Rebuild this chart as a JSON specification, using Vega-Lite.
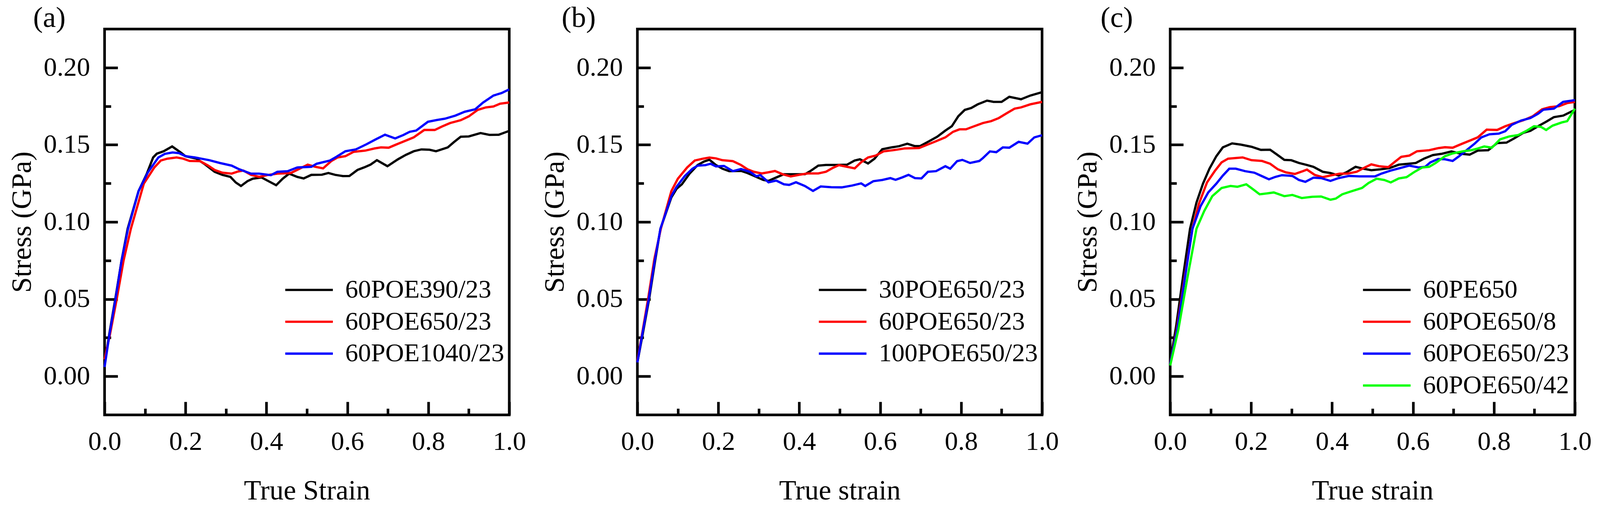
{
  "$schema": "https://vega.github.io/schema/vega-lite/v6.json",
  "background": "#ffffff",
  "padding": {"left": 16.7, "top": 5.3, "right": 0, "bottom": 0},
  "config": {
    "font": "Liberation Serif",
    "view": {"stroke": "#000000", "strokeWidth": 6.7},
    "axis": {
      "domain": false, "grid": false,
      "tickColor": "#000000", "tickWidth": 6.7,
      "labelFont": "Liberation Serif", "labelFontSize": 68, "labelColor": "#000000",
      "labelFlush": false, "labelOverlap": false, "labelBound": false,
      "titleFont": "Liberation Serif", "titleFontSize": 72, "titleFontWeight": "normal", "titleColor": "#000000"
    },
    "legend": {
      "orient": "none", "title": null, "padding": 0,
      "symbolType": "M-2,0L2,0", "symbolSize": 3712, "symbolStrokeWidth": 5.8,
      "labelFont": "Liberation Serif", "labelFontSize": 66, "labelColor": "#000000", "labelLimit": 1000,
      "labelOffset": 59, "rowPadding": 14.6, "legendY": 634.5
    },
    "title": {
      "font": "Liberation Serif", "fontSize": 75, "fontWeight": "normal", "color": "#000000",
      "anchor": "start", "frame": "group", "baseline": "alphabetic", "offset": 0, "dy": 14.4
    }
  },
  "datasets": {
    "a": [
      {"s":"60POE390/23","x":0,"y":0.008},{"s":"60POE390/23","x":0.012,"y":0.028},{"s":"60POE390/23","x":0.027,"y":0.051},{"s":"60POE390/23","x":0.042,"y":0.075},{"s":"60POE390/23","x":0.057,"y":0.0956},{"s":"60POE390/23","x":0.084,"y":0.12},{"s":"60POE390/23","x":0.104,"y":0.131},{"s":"60POE390/23","x":0.12,"y":0.1418},{"s":"60POE390/23","x":0.129,"y":0.1442},{"s":"60POE390/23","x":0.146,"y":0.1458},{"s":"60POE390/23","x":0.167,"y":0.1489},{"s":"60POE390/23","x":0.188,"y":0.145},{"s":"60POE390/23","x":0.2,"y":0.1426},{"s":"60POE390/23","x":0.227,"y":0.141},{"s":"60POE390/23","x":0.246,"y":0.1377},{"s":"60POE390/23","x":0.272,"y":0.1325},{"s":"60POE390/23","x":0.291,"y":0.1305},{"s":"60POE390/23","x":0.311,"y":0.1292},{"s":"60POE390/23","x":0.324,"y":0.1256},{"s":"60POE390/23","x":0.337,"y":0.1233},{"s":"60POE390/23","x":0.353,"y":0.1264},{"s":"60POE390/23","x":0.366,"y":0.128},{"s":"60POE390/23","x":0.388,"y":0.1288},{"s":"60POE390/23","x":0.408,"y":0.126},{"s":"60POE390/23","x":0.424,"y":0.1238},{"s":"60POE390/23","x":0.44,"y":0.128},{"s":"60POE390/23","x":0.456,"y":0.1313},{"s":"60POE390/23","x":0.476,"y":0.1292},{"s":"60POE390/23","x":0.492,"y":0.1282},{"s":"60POE390/23","x":0.511,"y":0.1305},{"s":"60POE390/23","x":0.537,"y":0.1306},{"s":"60POE390/23","x":0.553,"y":0.1317},{"s":"60POE390/23","x":0.57,"y":0.1305},{"s":"60POE390/23","x":0.589,"y":0.1297},{"s":"60POE390/23","x":0.605,"y":0.1298},{"s":"60POE390/23","x":0.625,"y":0.1337},{"s":"60POE390/23","x":0.641,"y":0.1353},{"s":"60POE390/23","x":0.657,"y":0.1371},{"s":"60POE390/23","x":0.673,"y":0.14},{"s":"60POE390/23","x":0.699,"y":0.1361},{"s":"60POE390/23","x":0.725,"y":0.1406},{"s":"60POE390/23","x":0.744,"y":0.1434},{"s":"60POE390/23","x":0.764,"y":0.1458},{"s":"60POE390/23","x":0.783,"y":0.147},{"s":"60POE390/23","x":0.803,"y":0.1468},{"s":"60POE390/23","x":0.819,"y":0.1458},{"s":"60POE390/23","x":0.848,"y":0.1483},{"s":"60POE390/23","x":0.864,"y":0.1519},{"s":"60POE390/23","x":0.88,"y":0.1552},{"s":"60POE390/23","x":0.9,"y":0.1554},{"s":"60POE390/23","x":0.929,"y":0.1576},{"s":"60POE390/23","x":0.951,"y":0.1564},{"s":"60POE390/23","x":0.974,"y":0.1565},{"s":"60POE390/23","x":1,"y":0.159},
      {"s":"60POE650/23","x":0,"y":0.011},{"s":"60POE650/23","x":0.014,"y":0.028},{"s":"60POE650/23","x":0.03,"y":0.05},{"s":"60POE650/23","x":0.047,"y":0.075},{"s":"60POE650/23","x":0.065,"y":0.0956},{"s":"60POE650/23","x":0.097,"y":0.1248},{"s":"60POE650/23","x":0.123,"y":0.1353},{"s":"60POE650/23","x":0.139,"y":0.1398},{"s":"60POE650/23","x":0.155,"y":0.141},{"s":"60POE650/23","x":0.178,"y":0.1418},{"s":"60POE650/23","x":0.194,"y":0.141},{"s":"60POE650/23","x":0.21,"y":0.1395},{"s":"60POE650/23","x":0.236,"y":0.1394},{"s":"60POE650/23","x":0.256,"y":0.1365},{"s":"60POE650/23","x":0.272,"y":0.1337},{"s":"60POE650/23","x":0.291,"y":0.1319},{"s":"60POE650/23","x":0.314,"y":0.1313},{"s":"60POE650/23","x":0.33,"y":0.1327},{"s":"60POE650/23","x":0.343,"y":0.1333},{"s":"60POE650/23","x":0.362,"y":0.1305},{"s":"60POE650/23","x":0.382,"y":0.1292},{"s":"60POE650/23","x":0.405,"y":0.1305},{"s":"60POE650/23","x":0.427,"y":0.1313},{"s":"60POE650/23","x":0.46,"y":0.1317},{"s":"60POE650/23","x":0.482,"y":0.1345},{"s":"60POE650/23","x":0.502,"y":0.1371},{"s":"60POE650/23","x":0.521,"y":0.1357},{"s":"60POE650/23","x":0.54,"y":0.1347},{"s":"60POE650/23","x":0.56,"y":0.1394},{"s":"60POE650/23","x":0.576,"y":0.1418},{"s":"60POE650/23","x":0.595,"y":0.1426},{"s":"60POE650/23","x":0.615,"y":0.1454},{"s":"60POE650/23","x":0.644,"y":0.1462},{"s":"60POE650/23","x":0.667,"y":0.1476},{"s":"60POE650/23","x":0.683,"y":0.1483},{"s":"60POE650/23","x":0.702,"y":0.1481},{"s":"60POE650/23","x":0.722,"y":0.1503},{"s":"60POE650/23","x":0.748,"y":0.1531},{"s":"60POE650/23","x":0.764,"y":0.1548},{"s":"60POE650/23","x":0.79,"y":0.1596},{"s":"60POE650/23","x":0.816,"y":0.1596},{"s":"60POE650/23","x":0.835,"y":0.162},{"s":"60POE650/23","x":0.854,"y":0.1641},{"s":"60POE650/23","x":0.88,"y":0.1659},{"s":"60POE650/23","x":0.9,"y":0.1684},{"s":"60POE650/23","x":0.922,"y":0.1726},{"s":"60POE650/23","x":0.942,"y":0.1742},{"s":"60POE650/23","x":0.961,"y":0.1748},{"s":"60POE650/23","x":0.977,"y":0.1766},{"s":"60POE650/23","x":1,"y":0.1774},
      {"s":"60POE1040/23","x":0,"y":0.006},{"s":"60POE1040/23","x":0.012,"y":0.027},{"s":"60POE1040/23","x":0.027,"y":0.05},{"s":"60POE1040/23","x":0.042,"y":0.075},{"s":"60POE1040/23","x":0.058,"y":0.0956},{"s":"60POE1040/23","x":0.084,"y":0.12},{"s":"60POE1040/23","x":0.107,"y":0.1321},{"s":"60POE1040/23","x":0.133,"y":0.1418},{"s":"60POE1040/23","x":0.149,"y":0.1441},{"s":"60POE1040/23","x":0.168,"y":0.145},{"s":"60POE1040/23","x":0.184,"y":0.1446},{"s":"60POE1040/23","x":0.2,"y":0.1426},{"s":"60POE1040/23","x":0.223,"y":0.1418},{"s":"60POE1040/23","x":0.259,"y":0.14},{"s":"60POE1040/23","x":0.285,"y":0.1382},{"s":"60POE1040/23","x":0.314,"y":0.1365},{"s":"60POE1040/23","x":0.333,"y":0.1341},{"s":"60POE1040/23","x":0.362,"y":0.1313},{"s":"60POE1040/23","x":0.382,"y":0.1313},{"s":"60POE1040/23","x":0.411,"y":0.1303},{"s":"60POE1040/23","x":0.427,"y":0.1325},{"s":"60POE1040/23","x":0.453,"y":0.1329},{"s":"60POE1040/23","x":0.476,"y":0.1353},{"s":"60POE1040/23","x":0.511,"y":0.1357},{"s":"60POE1040/23","x":0.524,"y":0.1377},{"s":"60POE1040/23","x":0.557,"y":0.1398},{"s":"60POE1040/23","x":0.573,"y":0.1422},{"s":"60POE1040/23","x":0.595,"y":0.1458},{"s":"60POE1040/23","x":0.621,"y":0.147},{"s":"60POE1040/23","x":0.647,"y":0.1503},{"s":"60POE1040/23","x":0.67,"y":0.1535},{"s":"60POE1040/23","x":0.693,"y":0.1565},{"s":"60POE1040/23","x":0.718,"y":0.1541},{"s":"60POE1040/23","x":0.738,"y":0.1563},{"s":"60POE1040/23","x":0.754,"y":0.1584},{"s":"60POE1040/23","x":0.77,"y":0.1592},{"s":"60POE1040/23","x":0.799,"y":0.1649},{"s":"60POE1040/23","x":0.822,"y":0.1661},{"s":"60POE1040/23","x":0.841,"y":0.1669},{"s":"60POE1040/23","x":0.867,"y":0.1689},{"s":"60POE1040/23","x":0.89,"y":0.1714},{"s":"60POE1040/23","x":0.916,"y":0.173},{"s":"60POE1040/23","x":0.935,"y":0.1773},{"s":"60POE1040/23","x":0.961,"y":0.1819},{"s":"60POE1040/23","x":0.981,"y":0.1835},{"s":"60POE1040/23","x":1,"y":0.1859}
    ],
    "b": [
      {"s":"30POE650/23","x":0,"y":0.009},{"s":"30POE650/23","x":0.013,"y":0.027},{"s":"30POE650/23","x":0.029,"y":0.05},{"s":"30POE650/23","x":0.044,"y":0.075},{"s":"30POE650/23","x":0.057,"y":0.0956},{"s":"30POE650/23","x":0.084,"y":0.1159},{"s":"30POE650/23","x":0.097,"y":0.1215},{"s":"30POE650/23","x":0.11,"y":0.1244},{"s":"30POE650/23","x":0.129,"y":0.1313},{"s":"30POE650/23","x":0.149,"y":0.1369},{"s":"30POE650/23","x":0.165,"y":0.1392},{"s":"30POE650/23","x":0.178,"y":0.1403},{"s":"30POE650/23","x":0.194,"y":0.1369},{"s":"30POE650/23","x":0.21,"y":0.1345},{"s":"30POE650/23","x":0.227,"y":0.1329},{"s":"30POE650/23","x":0.256,"y":0.1331},{"s":"30POE650/23","x":0.272,"y":0.1317},{"s":"30POE650/23","x":0.291,"y":0.1295},{"s":"30POE650/23","x":0.311,"y":0.1272},{"s":"30POE650/23","x":0.324,"y":0.1266},{"s":"30POE650/23","x":0.343,"y":0.1288},{"s":"30POE650/23","x":0.362,"y":0.1309},{"s":"30POE650/23","x":0.388,"y":0.1309},{"s":"30POE650/23","x":0.414,"y":0.1309},{"s":"30POE650/23","x":0.427,"y":0.1329},{"s":"30POE650/23","x":0.447,"y":0.1365},{"s":"30POE650/23","x":0.466,"y":0.1369},{"s":"30POE650/23","x":0.492,"y":0.1369},{"s":"30POE650/23","x":0.518,"y":0.1371},{"s":"30POE650/23","x":0.537,"y":0.1398},{"s":"30POE650/23","x":0.55,"y":0.1406},{"s":"30POE650/23","x":0.57,"y":0.1379},{"s":"30POE650/23","x":0.586,"y":0.141},{"s":"30POE650/23","x":0.605,"y":0.1471},{"s":"30POE650/23","x":0.628,"y":0.1483},{"s":"30POE650/23","x":0.647,"y":0.1491},{"s":"30POE650/23","x":0.667,"y":0.1507},{"s":"30POE650/23","x":0.686,"y":0.1491},{"s":"30POE650/23","x":0.699,"y":0.1492},{"s":"30POE650/23","x":0.718,"y":0.1519},{"s":"30POE650/23","x":0.741,"y":0.1552},{"s":"30POE650/23","x":0.761,"y":0.1592},{"s":"30POE650/23","x":0.777,"y":0.162},{"s":"30POE650/23","x":0.793,"y":0.1685},{"s":"30POE650/23","x":0.809,"y":0.1726},{"s":"30POE650/23","x":0.825,"y":0.1738},{"s":"30POE650/23","x":0.841,"y":0.1762},{"s":"30POE650/23","x":0.864,"y":0.1786},{"s":"30POE650/23","x":0.88,"y":0.1778},{"s":"30POE650/23","x":0.9,"y":0.1778},{"s":"30POE650/23","x":0.919,"y":0.1811},{"s":"30POE650/23","x":0.948,"y":0.1795},{"s":"30POE650/23","x":0.971,"y":0.1819},{"s":"30POE650/23","x":1,"y":0.1841},
      {"s":"60POE650/23","x":0,"y":0.01},{"s":"60POE650/23","x":0.012,"y":0.028},{"s":"60POE650/23","x":0.027,"y":0.051},{"s":"60POE650/23","x":0.042,"y":0.076},{"s":"60POE650/23","x":0.058,"y":0.0956},{"s":"60POE650/23","x":0.084,"y":0.12},{"s":"60POE650/23","x":0.1,"y":0.128},{"s":"60POE650/23","x":0.123,"y":0.1353},{"s":"60POE650/23","x":0.142,"y":0.1398},{"s":"60POE650/23","x":0.162,"y":0.141},{"s":"60POE650/23","x":0.178,"y":0.1417},{"s":"60POE650/23","x":0.194,"y":0.1412},{"s":"60POE650/23","x":0.21,"y":0.14},{"s":"60POE650/23","x":0.236,"y":0.1394},{"s":"60POE650/23","x":0.256,"y":0.1369},{"s":"60POE650/23","x":0.272,"y":0.1341},{"s":"60POE650/23","x":0.288,"y":0.1325},{"s":"60POE650/23","x":0.307,"y":0.1314},{"s":"60POE650/23","x":0.324,"y":0.1322},{"s":"60POE650/23","x":0.34,"y":0.133},{"s":"60POE650/23","x":0.359,"y":0.1309},{"s":"60POE650/23","x":0.379,"y":0.1295},{"s":"60POE650/23","x":0.401,"y":0.1306},{"s":"60POE650/23","x":0.421,"y":0.1314},{"s":"60POE650/23","x":0.447,"y":0.1314},{"s":"60POE650/23","x":0.466,"y":0.1325},{"s":"60POE650/23","x":0.482,"y":0.1349},{"s":"60POE650/23","x":0.498,"y":0.1368},{"s":"60POE650/23","x":0.518,"y":0.1357},{"s":"60POE650/23","x":0.537,"y":0.1347},{"s":"60POE650/23","x":0.553,"y":0.1387},{"s":"60POE650/23","x":0.57,"y":0.1418},{"s":"60POE650/23","x":0.589,"y":0.143},{"s":"60POE650/23","x":0.608,"y":0.1457},{"s":"60POE650/23","x":0.638,"y":0.1467},{"s":"60POE650/23","x":0.66,"y":0.1476},{"s":"60POE650/23","x":0.696,"y":0.1479},{"s":"60POE650/23","x":0.715,"y":0.1499},{"s":"60POE650/23","x":0.738,"y":0.1523},{"s":"60POE650/23","x":0.761,"y":0.1548},{"s":"60POE650/23","x":0.78,"y":0.1584},{"s":"60POE650/23","x":0.796,"y":0.16},{"s":"60POE650/23","x":0.812,"y":0.16},{"s":"60POE650/23","x":0.828,"y":0.1616},{"s":"60POE650/23","x":0.854,"y":0.1641},{"s":"60POE650/23","x":0.874,"y":0.1653},{"s":"60POE650/23","x":0.893,"y":0.1673},{"s":"60POE650/23","x":0.913,"y":0.1705},{"s":"60POE650/23","x":0.932,"y":0.1734},{"s":"60POE650/23","x":0.948,"y":0.1742},{"s":"60POE650/23","x":0.971,"y":0.1762},{"s":"60POE650/23","x":1,"y":0.1778},
      {"s":"100POE650/23","x":0,"y":0.009},{"s":"100POE650/23","x":0.012,"y":0.027},{"s":"100POE650/23","x":0.028,"y":0.05},{"s":"100POE650/23","x":0.043,"y":0.075},{"s":"100POE650/23","x":0.057,"y":0.0956},{"s":"100POE650/23","x":0.084,"y":0.1167},{"s":"100POE650/23","x":0.097,"y":0.1228},{"s":"100POE650/23","x":0.117,"y":0.1297},{"s":"100POE650/23","x":0.136,"y":0.1345},{"s":"100POE650/23","x":0.149,"y":0.1365},{"s":"100POE650/23","x":0.168,"y":0.1368},{"s":"100POE650/23","x":0.181,"y":0.1377},{"s":"100POE650/23","x":0.194,"y":0.136},{"s":"100POE650/23","x":0.214,"y":0.1363},{"s":"100POE650/23","x":0.236,"y":0.1329},{"s":"100POE650/23","x":0.256,"y":0.1343},{"s":"100POE650/23","x":0.278,"y":0.1325},{"s":"100POE650/23","x":0.294,"y":0.1296},{"s":"100POE650/23","x":0.304,"y":0.1303},{"s":"100POE650/23","x":0.324,"y":0.1257},{"s":"100POE650/23","x":0.343,"y":0.1268},{"s":"100POE650/23","x":0.362,"y":0.1244},{"s":"100POE650/23","x":0.375,"y":0.124},{"s":"100POE650/23","x":0.392,"y":0.1257},{"s":"100POE650/23","x":0.414,"y":0.1233},{"s":"100POE650/23","x":0.434,"y":0.1201},{"s":"100POE650/23","x":0.453,"y":0.123},{"s":"100POE650/23","x":0.479,"y":0.1225},{"s":"100POE650/23","x":0.505,"y":0.1224},{"s":"100POE650/23","x":0.531,"y":0.1236},{"s":"100POE650/23","x":0.553,"y":0.125},{"s":"100POE650/23","x":0.563,"y":0.1233},{"s":"100POE650/23","x":0.583,"y":0.1264},{"s":"100POE650/23","x":0.605,"y":0.1272},{"s":"100POE650/23","x":0.625,"y":0.1284},{"s":"100POE650/23","x":0.638,"y":0.1273},{"s":"100POE650/23","x":0.654,"y":0.1288},{"s":"100POE650/23","x":0.67,"y":0.1305},{"s":"100POE650/23","x":0.686,"y":0.1284},{"s":"100POE650/23","x":0.702,"y":0.1282},{"s":"100POE650/23","x":0.718,"y":0.1325},{"s":"100POE650/23","x":0.738,"y":0.1329},{"s":"100POE650/23","x":0.761,"y":0.1361},{"s":"100POE650/23","x":0.773,"y":0.1345},{"s":"100POE650/23","x":0.79,"y":0.1394},{"s":"100POE650/23","x":0.803,"y":0.1402},{"s":"100POE650/23","x":0.822,"y":0.1382},{"s":"100POE650/23","x":0.845,"y":0.1395},{"s":"100POE650/23","x":0.854,"y":0.1414},{"s":"100POE650/23","x":0.871,"y":0.1457},{"s":"100POE650/23","x":0.887,"y":0.1452},{"s":"100POE650/23","x":0.903,"y":0.1483},{"s":"100POE650/23","x":0.919,"y":0.1481},{"s":"100POE650/23","x":0.942,"y":0.1519},{"s":"100POE650/23","x":0.964,"y":0.1507},{"s":"100POE650/23","x":0.981,"y":0.1548},{"s":"100POE650/23","x":1,"y":0.1562}
    ],
    "c": [
      {"s":"60PE650","x":0,"y":0.009},{"s":"60PE650","x":0.015,"y":0.033},{"s":"60PE650","x":0.032,"y":0.065},{"s":"60PE650","x":0.049,"y":0.0956},{"s":"60PE650","x":0.065,"y":0.1126},{"s":"60PE650","x":0.081,"y":0.1248},{"s":"60PE650","x":0.097,"y":0.1345},{"s":"60PE650","x":0.114,"y":0.1426},{"s":"60PE650","x":0.13,"y":0.1483},{"s":"60PE650","x":0.153,"y":0.1509},{"s":"60PE650","x":0.175,"y":0.1501},{"s":"60PE650","x":0.201,"y":0.1487},{"s":"60PE650","x":0.224,"y":0.1467},{"s":"60PE650","x":0.247,"y":0.1468},{"s":"60PE650","x":0.263,"y":0.1438},{"s":"60PE650","x":0.282,"y":0.1402},{"s":"60PE650","x":0.299,"y":0.14},{"s":"60PE650","x":0.318,"y":0.1382},{"s":"60PE650","x":0.338,"y":0.1369},{"s":"60PE650","x":0.354,"y":0.1357},{"s":"60PE650","x":0.377,"y":0.1325},{"s":"60PE650","x":0.396,"y":0.1317},{"s":"60PE650","x":0.416,"y":0.1301},{"s":"60PE650","x":0.435,"y":0.1321},{"s":"60PE650","x":0.458,"y":0.1357},{"s":"60PE650","x":0.477,"y":0.1345},{"s":"60PE650","x":0.497,"y":0.1335},{"s":"60PE650","x":0.519,"y":0.1341},{"s":"60PE650","x":0.542,"y":0.1349},{"s":"60PE650","x":0.565,"y":0.1371},{"s":"60PE650","x":0.588,"y":0.1377},{"s":"60PE650","x":0.607,"y":0.1382},{"s":"60PE650","x":0.627,"y":0.141},{"s":"60PE650","x":0.649,"y":0.1433},{"s":"60PE650","x":0.672,"y":0.1442},{"s":"60PE650","x":0.695,"y":0.1457},{"s":"60PE650","x":0.718,"y":0.1442},{"s":"60PE650","x":0.74,"y":0.1436},{"s":"60PE650","x":0.76,"y":0.1462},{"s":"60PE650","x":0.786,"y":0.1465},{"s":"60PE650","x":0.808,"y":0.1511},{"s":"60PE650","x":0.831,"y":0.1514},{"s":"60PE650","x":0.851,"y":0.1543},{"s":"60PE650","x":0.873,"y":0.1578},{"s":"60PE650","x":0.89,"y":0.159},{"s":"60PE650","x":0.909,"y":0.162},{"s":"60PE650","x":0.929,"y":0.1649},{"s":"60PE650","x":0.948,"y":0.1679},{"s":"60PE650","x":0.971,"y":0.1689},{"s":"60PE650","x":1,"y":0.1726},
      {"s":"60POE650/8","x":0,"y":0.008},{"s":"60POE650/8","x":0.016,"y":0.03},{"s":"60POE650/8","x":0.035,"y":0.063},{"s":"60POE650/8","x":0.055,"y":0.0956},{"s":"60POE650/8","x":0.071,"y":0.1118},{"s":"60POE650/8","x":0.091,"y":0.1256},{"s":"60POE650/8","x":0.11,"y":0.1329},{"s":"60POE650/8","x":0.127,"y":0.1386},{"s":"60POE650/8","x":0.143,"y":0.141},{"s":"60POE650/8","x":0.162,"y":0.1414},{"s":"60POE650/8","x":0.179,"y":0.1418},{"s":"60POE650/8","x":0.201,"y":0.14},{"s":"60POE650/8","x":0.227,"y":0.1395},{"s":"60POE650/8","x":0.247,"y":0.1377},{"s":"60POE650/8","x":0.266,"y":0.1341},{"s":"60POE650/8","x":0.286,"y":0.1321},{"s":"60POE650/8","x":0.308,"y":0.1311},{"s":"60POE650/8","x":0.328,"y":0.1329},{"s":"60POE650/8","x":0.338,"y":0.1339},{"s":"60POE650/8","x":0.357,"y":0.1305},{"s":"60POE650/8","x":0.377,"y":0.129},{"s":"60POE650/8","x":0.396,"y":0.1301},{"s":"60POE650/8","x":0.419,"y":0.1313},{"s":"60POE650/8","x":0.438,"y":0.1313},{"s":"60POE650/8","x":0.461,"y":0.1325},{"s":"60POE650/8","x":0.481,"y":0.1353},{"s":"60POE650/8","x":0.497,"y":0.1373},{"s":"60POE650/8","x":0.516,"y":0.1361},{"s":"60POE650/8","x":0.539,"y":0.1355},{"s":"60POE650/8","x":0.555,"y":0.1389},{"s":"60POE650/8","x":0.571,"y":0.1422},{"s":"60POE650/8","x":0.591,"y":0.143},{"s":"60POE650/8","x":0.61,"y":0.1458},{"s":"60POE650/8","x":0.64,"y":0.1465},{"s":"60POE650/8","x":0.662,"y":0.1478},{"s":"60POE650/8","x":0.679,"y":0.1484},{"s":"60POE650/8","x":0.698,"y":0.1481},{"s":"60POE650/8","x":0.718,"y":0.1503},{"s":"60POE650/8","x":0.744,"y":0.1531},{"s":"60POE650/8","x":0.76,"y":0.1548},{"s":"60POE650/8","x":0.782,"y":0.1598},{"s":"60POE650/8","x":0.808,"y":0.1596},{"s":"60POE650/8","x":0.828,"y":0.162},{"s":"60POE650/8","x":0.851,"y":0.1641},{"s":"60POE650/8","x":0.873,"y":0.1659},{"s":"60POE650/8","x":0.896,"y":0.1685},{"s":"60POE650/8","x":0.919,"y":0.173},{"s":"60POE650/8","x":0.938,"y":0.1744},{"s":"60POE650/8","x":0.961,"y":0.175},{"s":"60POE650/8","x":0.981,"y":0.177},{"s":"60POE650/8","x":1,"y":0.1778},
      {"s":"60POE650/23","x":0,"y":0.008},{"s":"60POE650/23","x":0.017,"y":0.03},{"s":"60POE650/23","x":0.036,"y":0.063},{"s":"60POE650/23","x":0.055,"y":0.0956},{"s":"60POE650/23","x":0.075,"y":0.1102},{"s":"60POE650/23","x":0.094,"y":0.1191},{"s":"60POE650/23","x":0.114,"y":0.1248},{"s":"60POE650/23","x":0.13,"y":0.13},{"s":"60POE650/23","x":0.146,"y":0.1345},{"s":"60POE650/23","x":0.162,"y":0.1345},{"s":"60POE650/23","x":0.185,"y":0.1329},{"s":"60POE650/23","x":0.208,"y":0.1319},{"s":"60POE650/23","x":0.224,"y":0.13},{"s":"60POE650/23","x":0.244,"y":0.1276},{"s":"60POE650/23","x":0.26,"y":0.1292},{"s":"60POE650/23","x":0.276,"y":0.1303},{"s":"60POE650/23","x":0.302,"y":0.1298},{"s":"60POE650/23","x":0.318,"y":0.1272},{"s":"60POE650/23","x":0.334,"y":0.126},{"s":"60POE650/23","x":0.354,"y":0.1287},{"s":"60POE650/23","x":0.373,"y":0.1284},{"s":"60POE650/23","x":0.396,"y":0.1266},{"s":"60POE650/23","x":0.416,"y":0.1284},{"s":"60POE650/23","x":0.442,"y":0.1298},{"s":"60POE650/23","x":0.468,"y":0.1295},{"s":"60POE650/23","x":0.506,"y":0.1295},{"s":"60POE650/23","x":0.523,"y":0.1314},{"s":"60POE650/23","x":0.545,"y":0.1333},{"s":"60POE650/23","x":0.568,"y":0.1349},{"s":"60POE650/23","x":0.591,"y":0.1365},{"s":"60POE650/23","x":0.614,"y":0.1353},{"s":"60POE650/23","x":0.63,"y":0.1357},{"s":"60POE650/23","x":0.643,"y":0.1386},{"s":"60POE650/23","x":0.662,"y":0.1408},{"s":"60POE650/23","x":0.679,"y":0.1406},{"s":"60POE650/23","x":0.698,"y":0.1395},{"s":"60POE650/23","x":0.714,"y":0.1426},{"s":"60POE650/23","x":0.734,"y":0.1468},{"s":"60POE650/23","x":0.753,"y":0.1509},{"s":"60POE650/23","x":0.769,"y":0.1548},{"s":"60POE650/23","x":0.789,"y":0.1568},{"s":"60POE650/23","x":0.812,"y":0.1572},{"s":"60POE650/23","x":0.828,"y":0.1588},{"s":"60POE650/23","x":0.844,"y":0.1629},{"s":"60POE650/23","x":0.867,"y":0.1657},{"s":"60POE650/23","x":0.89,"y":0.1673},{"s":"60POE650/23","x":0.909,"y":0.1701},{"s":"60POE650/23","x":0.922,"y":0.1727},{"s":"60POE650/23","x":0.948,"y":0.1734},{"s":"60POE650/23","x":0.971,"y":0.1778},{"s":"60POE650/23","x":1,"y":0.1789},
      {"s":"60POE650/42","x":0,"y":0.007},{"s":"60POE650/42","x":0.02,"y":0.03},{"s":"60POE650/42","x":0.042,"y":0.063},{"s":"60POE650/42","x":0.065,"y":0.0956},{"s":"60POE650/42","x":0.084,"y":0.107},{"s":"60POE650/42","x":0.104,"y":0.1167},{"s":"60POE650/42","x":0.127,"y":0.122},{"s":"60POE650/42","x":0.149,"y":0.1233},{"s":"60POE650/42","x":0.166,"y":0.1228},{"s":"60POE650/42","x":0.188,"y":0.1244},{"s":"60POE650/42","x":0.205,"y":0.1211},{"s":"60POE650/42","x":0.221,"y":0.1179},{"s":"60POE650/42","x":0.24,"y":0.1185},{"s":"60POE650/42","x":0.256,"y":0.1191},{"s":"60POE650/42","x":0.282,"y":0.1167},{"s":"60POE650/42","x":0.302,"y":0.1175},{"s":"60POE650/42","x":0.325,"y":0.1155},{"s":"60POE650/42","x":0.351,"y":0.1163},{"s":"60POE650/42","x":0.373,"y":0.1165},{"s":"60POE650/42","x":0.396,"y":0.1144},{"s":"60POE650/42","x":0.409,"y":0.1151},{"s":"60POE650/42","x":0.425,"y":0.1179},{"s":"60POE650/42","x":0.448,"y":0.1199},{"s":"60POE650/42","x":0.474,"y":0.122},{"s":"60POE650/42","x":0.49,"y":0.1252},{"s":"60POE650/42","x":0.51,"y":0.128},{"s":"60POE650/42","x":0.529,"y":0.1272},{"s":"60POE650/42","x":0.545,"y":0.1256},{"s":"60POE650/42","x":0.565,"y":0.1282},{"s":"60POE650/42","x":0.584,"y":0.129},{"s":"60POE650/42","x":0.604,"y":0.1325},{"s":"60POE650/42","x":0.623,"y":0.1353},{"s":"60POE650/42","x":0.64,"y":0.1357},{"s":"60POE650/42","x":0.656,"y":0.1382},{"s":"60POE650/42","x":0.679,"y":0.1426},{"s":"60POE650/42","x":0.698,"y":0.1444},{"s":"60POE650/42","x":0.724,"y":0.1458},{"s":"60POE650/42","x":0.744,"y":0.1465},{"s":"60POE650/42","x":0.76,"y":0.1476},{"s":"60POE650/42","x":0.776,"y":0.1489},{"s":"60POE650/42","x":0.795,"y":0.1481},{"s":"60POE650/42","x":0.815,"y":0.1535},{"s":"60POE650/42","x":0.838,"y":0.1554},{"s":"60POE650/42","x":0.86,"y":0.1563},{"s":"60POE650/42","x":0.88,"y":0.159},{"s":"60POE650/42","x":0.899,"y":0.162},{"s":"60POE650/42","x":0.916,"y":0.1616},{"s":"60POE650/42","x":0.929,"y":0.1596},{"s":"60POE650/42","x":0.945,"y":0.1624},{"s":"60POE650/42","x":0.968,"y":0.1645},{"s":"60POE650/42","x":0.981,"y":0.1653},{"s":"60POE650/42","x":1,"y":0.1734}
    ]
  },
  "bounds": "flush",
  "spacing": 328,
  "resolve": {"scale": {"color": "independent"}},
  "hconcat": [
    {
      "width": 1036, "height": 988,
      "title": {"text": "(a)", "dx": -183},
      "data": {"name": "a"},
      "resolve": {"axis": {"x": "independent", "y": "independent"}},
      "layer": [
        {
          "mark": {"type": "line", "strokeWidth": 5.8},
          "encoding": {
            "x": {"field": "x", "type": "quantitative", "scale": {"domain": [0, 1], "nice": false},
                  "axis": {"orient": "bottom", "values": [0, 0.2, 0.4, 0.6, 0.8, 1], "format": ".1f", "tickSize": -33.6, "labelPadding": 69, "title": "True Strain", "titlePadding": 55.7}},
            "y": {"field": "y", "type": "quantitative", "scale": {"domain": [-0.025, 0.225], "nice": false, "zero": false},
                  "axis": {"orient": "left", "values": [0, 0.05, 0.1, 0.15, 0.2], "format": ".2f", "tickSize": -33.6, "labelPadding": 71, "title": "Stress (GPa)", "titlePadding": 18.2}},
            "color": {"field": "s", "type": "nominal",
                      "scale": {"domain": ["60POE390/23", "60POE650/23", "60POE1040/23"], "range": ["#000000", "#ff0000", "#0000ff"]},
                      "legend": {"legendX": 490}}
          }
        },
        {
          "mark": {"type": "line", "opacity": 0},
          "encoding": {
            "x": {"field": "x", "type": "quantitative",
                  "axis": {"orient": "bottom", "values": [0.1, 0.3, 0.5, 0.7, 0.9], "labels": false, "tickSize": -16.3, "title": null}},
            "y": {"field": "y", "type": "quantitative",
                  "axis": {"orient": "left", "values": [0.025, 0.075, 0.125, 0.175], "labels": false, "tickSize": -16.3, "title": null}},
            "detail": {"field": "s"}
          }
        }
      ]
    },
    {
      "width": 1036, "height": 988,
      "title": {"text": "(b)", "dx": -194},
      "data": {"name": "b"},
      "resolve": {"axis": {"x": "independent", "y": "independent"}},
      "layer": [
        {
          "mark": {"type": "line", "strokeWidth": 5.8},
          "encoding": {
            "x": {"field": "x", "type": "quantitative", "scale": {"domain": [0, 1], "nice": false},
                  "axis": {"orient": "bottom", "values": [0, 0.2, 0.4, 0.6, 0.8, 1], "format": ".1f", "tickSize": -33.6, "labelPadding": 69, "title": "True strain", "titlePadding": 55.7}},
            "y": {"field": "y", "type": "quantitative", "scale": {"domain": [-0.025, 0.225], "nice": false, "zero": false},
                  "axis": {"orient": "left", "values": [0, 0.05, 0.1, 0.15, 0.2], "format": ".2f", "tickSize": -33.6, "labelPadding": 71, "title": "Stress (GPa)", "titlePadding": 18.2}},
            "color": {"field": "s", "type": "nominal",
                      "scale": {"domain": ["30POE650/23", "60POE650/23", "100POE650/23"], "range": ["#000000", "#ff0000", "#0000ff"]},
                      "legend": {"legendX": 492}}
          }
        },
        {
          "mark": {"type": "line", "opacity": 0},
          "encoding": {
            "x": {"field": "x", "type": "quantitative",
                  "axis": {"orient": "bottom", "values": [0.1, 0.3, 0.5, 0.7, 0.9], "labels": false, "tickSize": -16.3, "title": null}},
            "y": {"field": "y", "type": "quantitative",
                  "axis": {"orient": "left", "values": [0.025, 0.075, 0.125, 0.175], "labels": false, "tickSize": -16.3, "title": null}},
            "detail": {"field": "s"}
          }
        }
      ]
    },
    {
      "width": 1036, "height": 988,
      "title": {"text": "(c)", "dx": -178.5},
      "data": {"name": "c"},
      "resolve": {"axis": {"x": "independent", "y": "independent"}},
      "layer": [
        {
          "mark": {"type": "line", "strokeWidth": 5.8},
          "encoding": {
            "x": {"field": "x", "type": "quantitative", "scale": {"domain": [0, 1], "nice": false},
                  "axis": {"orient": "bottom", "values": [0, 0.2, 0.4, 0.6, 0.8, 1], "format": ".1f", "tickSize": -33.6, "labelPadding": 69, "title": "True strain", "titlePadding": 55.7}},
            "y": {"field": "y", "type": "quantitative", "scale": {"domain": [-0.025, 0.225], "nice": false, "zero": false},
                  "axis": {"orient": "left", "values": [0, 0.05, 0.1, 0.15, 0.2], "format": ".2f", "tickSize": -33.6, "labelPadding": 71, "title": "Stress (GPa)", "titlePadding": 18.2}},
            "color": {"field": "s", "type": "nominal",
                      "scale": {"domain": ["60PE650", "60POE650/8", "60POE650/23", "60POE650/42"], "range": ["#000000", "#ff0000", "#0000ff", "#00ff00"]},
                      "legend": {"legendX": 521}}
          }
        },
        {
          "mark": {"type": "line", "opacity": 0},
          "encoding": {
            "x": {"field": "x", "type": "quantitative",
                  "axis": {"orient": "bottom", "values": [0.1, 0.3, 0.5, 0.7, 0.9], "labels": false, "tickSize": -16.3, "title": null}},
            "y": {"field": "y", "type": "quantitative",
                  "axis": {"orient": "left", "values": [0.025, 0.075, 0.125, 0.175], "labels": false, "tickSize": -16.3, "title": null}},
            "detail": {"field": "s"}
          }
        }
      ]
    }
  ]
}
